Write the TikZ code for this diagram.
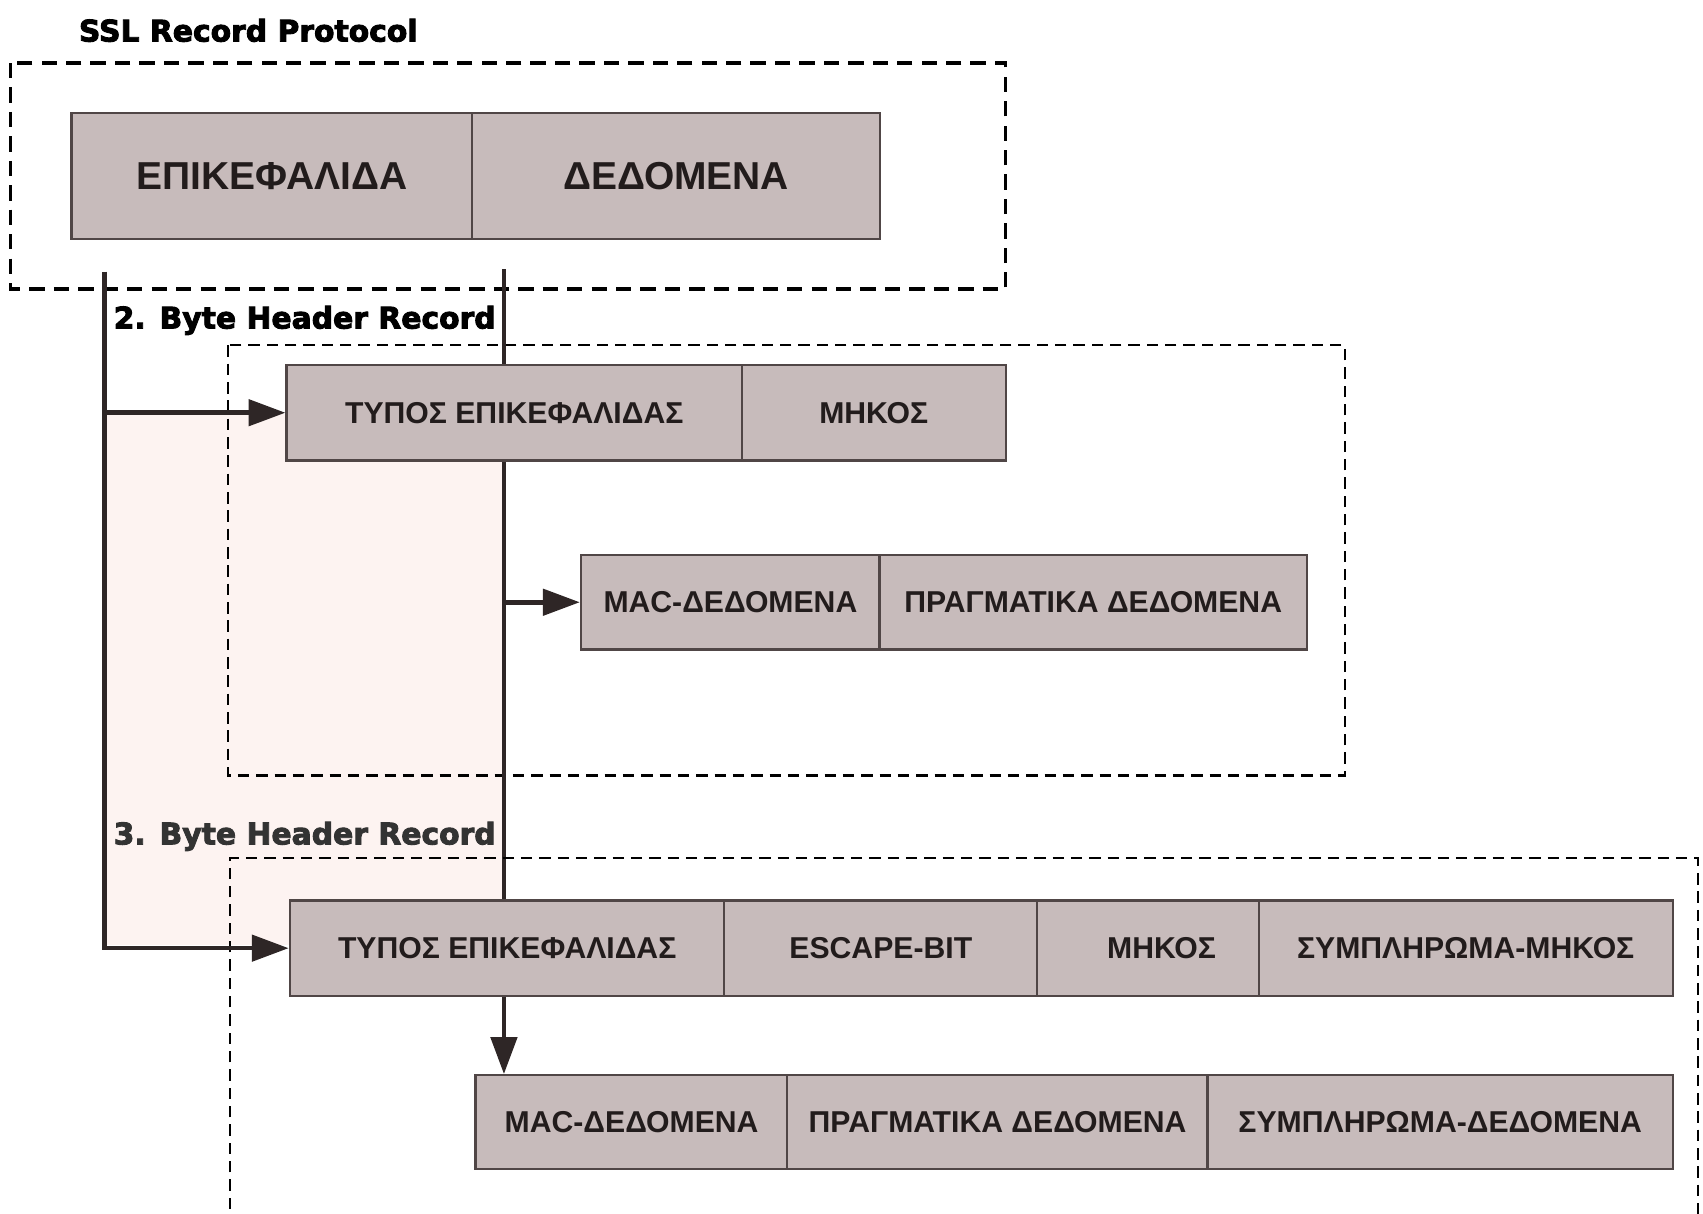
\documentclass[tikz,border=0pt]{standalone}
\usepackage{fontspec}
\setmainfont{Liberation Sans}
\newfontfamily\headfont[FakeBold=3]{DejaVu Sans Bold}
\usetikzlibrary{arrows.meta}
\definecolor{cellfill}{RGB}{199,187,187}
\definecolor{celledge}{RGB}{80,70,70}
\definecolor{ink}{RGB}{34,28,28}
\definecolor{wirecol}{RGB}{46,38,38}
\definecolor{blush}{RGB}{253,243,241}
\newcommand{\bigcell}{\fontsize{10.2}{12}\selectfont\bfseries}
\newcommand{\smallcell}{\fontsize{7.9}{9}\selectfont\bfseries}
\newcommand{\headtext}{\headfont\fontsize{7.8}{9}\selectfont}
\tikzstyle{cell}=[draw=celledge, fill=cellfill, line width=0.6pt, text=ink, inner sep=0pt]
\tikzstyle{title}=[anchor=west, inner sep=0pt, text=black]
\tikzstyle{wire}=[line width=1.2pt, draw=wirecol]
\tikzstyle{feed}=[wire, -{Triangle[length=3.4mm,width=2.4mm]}]
\tikzstyle{frame}=[line width=0.85pt, dash pattern=on 4pt off 2.4pt]
\tikzstyle{subframe}=[line width=0.55pt, dash pattern=on 3pt off 1.8pt]

\begin{document}
\begin{tikzpicture}[x=0.01cm,y=-0.01cm]
  \useasboundingbox (0,0) rectangle (1568,1117);

  %% faint tint between the two feed lines
  \fill[blush] (96,381) rectangle (464,870);

  %% SSL record
  \draw (72,28) node[title] (ssltitle) {\headtext SSL Record Protocol};
  \draw[frame] (10,58) rectangle (926,266);
  \draw (250.5,162) node[cell,minimum width=3.69cm,minimum height=1.16cm] (hdr) {\bigcell ΕΠΙΚΕΦΑΛΙΔΑ};
  \draw (622.5,162) node[cell,minimum width=3.75cm,minimum height=1.16cm] (data) {\bigcell ΔΕΔΟΜΕΝΑ};
  \coordinate (hdrfoot) at (96,250);
  \coordinate (datafoot) at (464,248);

  %% 2 byte header
  \draw (104,295) node[title] (twotitle) {\headtext 2. Byte Header Record};
  \draw[subframe] (210,318) rectangle (1238,714);
  \draw[wire] (datafoot) -- (datafoot |- 0,829);
  \draw (473.5,380) node[cell,minimum width=4.19cm,minimum height=0.88cm] (type2) {\smallcell ΤΥΠΟΣ ΕΠΙΚΕΦΑΛΙΔΑΣ};
  \draw (804.5,380) node[cell,minimum width=2.43cm,minimum height=0.88cm] (len2) {\smallcell ΜΗΚΟΣ};
  \draw (672.5,554.5) node[cell,minimum width=2.75cm,minimum height=0.87cm] (mac2) {\smallcell MAC-ΔΕΔΟΜΕΝΑ};
  \draw (1006.5,554.5) node[cell,minimum width=3.93cm,minimum height=0.87cm] (real2) {\smallcell ΠΡΑΓΜΑΤΙΚΑ ΔΕΔΟΜΕΝΑ};

  %% 3 byte header
  \draw (104,770) node[title,text=black!80] (threetitle) {\headtext 3. Byte Header Record};
  \draw[subframe] (212,1130) -- (212,790) -- (1563,790) -- (1563,1130);
  \draw (467,873) node[cell,minimum width=4.00cm,minimum height=0.88cm] (type3) {\smallcell ΤΥΠΟΣ ΕΠΙΚΕΦΑΛΙΔΑΣ};
  \draw (811,873) node[cell,minimum width=2.88cm,minimum height=0.88cm] (esc3) {\smallcell ESCAPE-BIT};
  \draw (1057,873) node[cell,minimum width=2.04cm,minimum height=0.88cm] (len3) {\smallcell\hspace{0.25cm}ΜΗΚΟΣ};
  \draw (1349.5,873) node[cell,minimum width=3.81cm,minimum height=0.88cm] (padlen3) {\smallcell ΣΥΜΠΛΗΡΩΜΑ-ΜΗΚΟΣ};
  \draw (581.5,1033) node[cell,minimum width=2.87cm,minimum height=0.86cm] (mac3) {\smallcell MAC-ΔΕΔΟΜΕΝΑ};
  \draw (918.5,1033) node[cell,minimum width=3.87cm,minimum height=0.86cm] (real3) {\smallcell ΠΡΑΓΜΑΤΙΚΑ ΔΕΔΟΜΕΝΑ};
  \draw (1326,1033) node[cell,minimum width=4.28cm,minimum height=0.86cm] (pad3) {\smallcell ΣΥΜΠΛΗΡΩΜΑ-ΔΕΔΟΜΕΝΑ};

  %% feed lines
  \draw[feed] (hdrfoot) |- (type3.west);
  \draw[feed] (hdrfoot |- type2.west) -- (type2.west);
  \draw[feed] (datafoot |- mac2.west) -- (mac2.west);
  \draw[feed] (datafoot |- type3.south) -- (datafoot |- mac3.north);
\end{tikzpicture}
\end{document}
